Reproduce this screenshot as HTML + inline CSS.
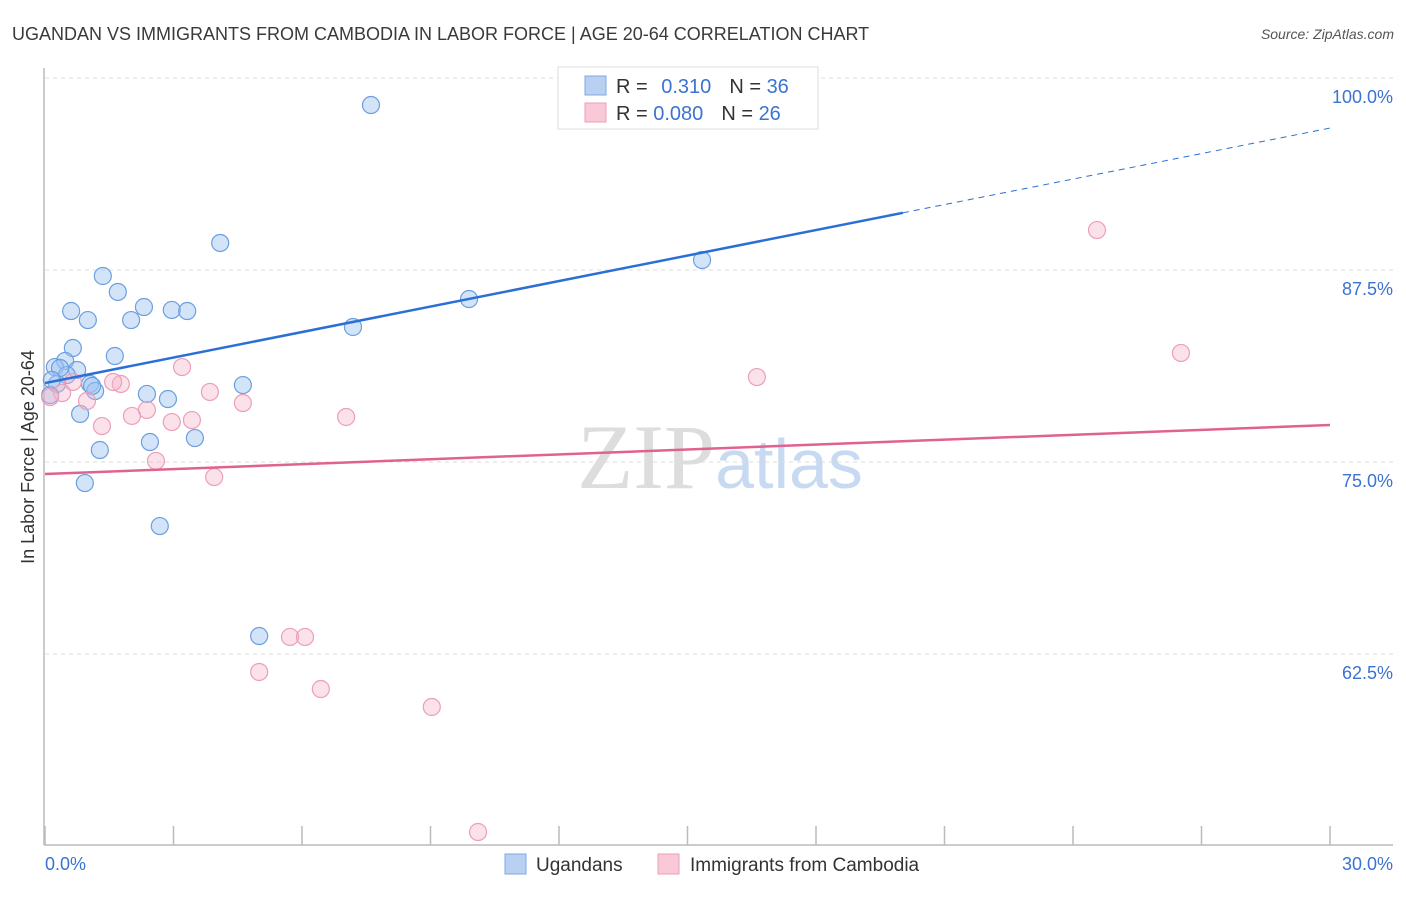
<!DOCTYPE html>
<html><head><meta charset="utf-8"><style>
body{margin:0;background:#fff;font-family:"Liberation Sans",sans-serif}
</style></head><body>
<svg id="chart" width="1406" height="892" xmlns="http://www.w3.org/2000/svg" font-family="Liberation Sans, sans-serif">
<text x="12" y="40" font-size="18" fill="#3a3a3a">UGANDAN VS IMMIGRANTS FROM CAMBODIA IN LABOR FORCE | AGE 20-64 CORRELATION CHART</text>
<text x="1394" y="39" font-size="14" font-style="italic" fill="#555" text-anchor="end">Source: ZipAtlas.com</text>
<text x="720" y="488" font-size="92" font-family="Liberation Serif, serif" fill="#ddd" text-anchor="middle">ZIP<tspan fill="#c8daf2" font-family="Liberation Sans, sans-serif" font-size="70">atlas</tspan></text>
<g id="grid"></g>
<line x1="44" y1="68" x2="44" y2="845" stroke="#bbb" stroke-width="1.5"/>
<line x1="44" y1="845" x2="1393" y2="845" stroke="#bbb" stroke-width="1.5"/>
<text transform="translate(34,457) rotate(-90)" font-size="18" fill="#333" text-anchor="middle">In Labor Force | Age 20-64</text>
<text x="45" y="870" font-size="18" fill="#3b73d1">0.0%</text>
<text x="1393" y="870" font-size="18" fill="#3b73d1" text-anchor="end">30.0%</text>
<g id="marks"></g>
<g>
<rect x="558" y="67" width="260" height="62" fill="#fff" stroke="#ddd"/>
<rect x="585" y="76" width="21" height="19" fill="#b8d1f3" stroke="#7fa8e2"/>
<rect x="585" y="103" width="21" height="19" fill="#f9c9d7" stroke="#ef9fb9"/>
<text x="616" y="93" font-size="20" fill="#333">R = <tspan fill="#3b73d1" dx="8">0.310</tspan><tspan dx="18">N = </tspan><tspan fill="#3b73d1">36</tspan></text>
<text x="616" y="120" font-size="20" fill="#333">R = <tspan fill="#3b73d1">0.080</tspan><tspan dx="18">N = </tspan><tspan fill="#3b73d1">26</tspan></text>
</g>
<g>
<rect x="505" y="854" width="21" height="20" fill="#b8d1f3" stroke="#7fa8e2"/>
<text x="536" y="871" font-size="19" fill="#333">Ugandans</text>
<rect x="658" y="854" width="21" height="20" fill="#f9c9d7" stroke="#ef9fb9"/>
<text x="690" y="871" font-size="19" fill="#333">Immigrants from Cambodia</text>
</g>
</svg>
<script>
const yTicks=[62.5,75,87.5,100];
const yTickLabels=["62.5%","75.0%","87.5%","100.0%"];
const xTicks=[0,3,6,9,12,15,18,21,24,27,30];
const ugX=[7.61,4.09,1.35,1.70,0.61,1.00,2.31,2.96,3.32,2.01,9.90,15.34,7.19,0.65,1.63,0.47,0.23,0.75,0.51,0.28,1.05,1.17,2.38,2.87,4.62,0.82,2.45,3.50,1.28,0.93,2.68,5.00,0.12,0.35,1.10,0.16];
const ugY=[98.24,89.26,87.11,86.07,84.83,84.24,85.09,84.90,84.83,84.24,85.61,88.15,83.79,82.42,81.90,81.58,81.18,80.99,80.66,80.08,80.08,79.62,79.43,79.10,80.01,78.13,76.30,76.56,75.78,73.63,70.83,63.67,79.36,81.12,79.95,80.34];
const caX=[24.56,26.52,16.62,3.20,1.77,1.59,0.65,0.40,0.98,3.85,4.62,2.38,2.03,3.43,2.96,7.03,1.33,2.59,3.95,5.72,6.07,5.00,6.44,9.03,10.11,0.12];
const caY=[90.10,82.10,80.53,81.18,80.08,80.21,80.21,79.49,78.97,79.56,78.84,78.39,78.00,77.73,77.60,77.93,77.34,75.07,74.02,63.61,63.61,61.33,60.22,59.05,50.91,79.23];
const ugTrend=[80.14,96.74];
const caTrend=[74.22,77.41];
const ugSolidEnd=20.03;
const NS="http://www.w3.org/2000/svg";
const X=v=>45+v/30*1285;
const Y=v=>78+(100-v)*15.36;
function mk(t,a,p){const e=document.createElementNS(NS,t);for(const k in a)e.setAttribute(k,a[k]);p.appendChild(e);return e;}
const grid=document.getElementById('grid'),marks=document.getElementById('marks');
yTicks.forEach((v,i)=>{
 const l=mk('line',{x1:45,x2:1393,y1:Y(v),y2:Y(v),stroke:'#ddd','stroke-dasharray':'4,4'},grid);
 
 
 const t=mk('text',{x:1393,y:Y(v)+25,'font-size':18,fill:'#3b73d1','text-anchor':'end'},grid);
 t.textContent=yTickLabels[i];
 
 
});
xTicks.forEach(v=>{
 const l=mk('line',{x1:X(v),x2:X(v),y1:826,y2:845,stroke:'#bbb','stroke-width':1.5},grid);
 
 
});
ugX.forEach((x,i)=>{
 const c=mk('circle',{cx:X(x),cy:Y(ugY[i]),r:8.5,fill:'rgba(160,195,240,0.45)',stroke:'#6b9fe0','stroke-width':1.2},marks);
 
 
});
caX.forEach((x,i)=>{
 const c=mk('circle',{cx:X(x),cy:Y(caY[i]),r:8.5,fill:'rgba(245,180,200,0.4)',stroke:'#ec9fb8','stroke-width':1.2},marks);
 
 
});
const ys=ugTrend[0]+(ugTrend[1]-ugTrend[0])*ugSolidEnd/30;
let l=mk('line',{x1:X(0),y1:Y(ugTrend[0]),x2:X(ugSolidEnd),y2:Y(ys),stroke:'#2a6fd6','stroke-width':2.5},marks);


l=mk('line',{x1:X(ugSolidEnd),y1:Y(ys),x2:X(30),y2:Y(ugTrend[1]),stroke:'#2a6fd6','stroke-width':1,'stroke-dasharray':'6,5'},marks);


l=mk('line',{x1:X(0),y1:Y(caTrend[0]),x2:X(30),y2:Y(caTrend[1]),stroke:'#e0628f','stroke-width':2.5},marks);


</script>
</body></html>
